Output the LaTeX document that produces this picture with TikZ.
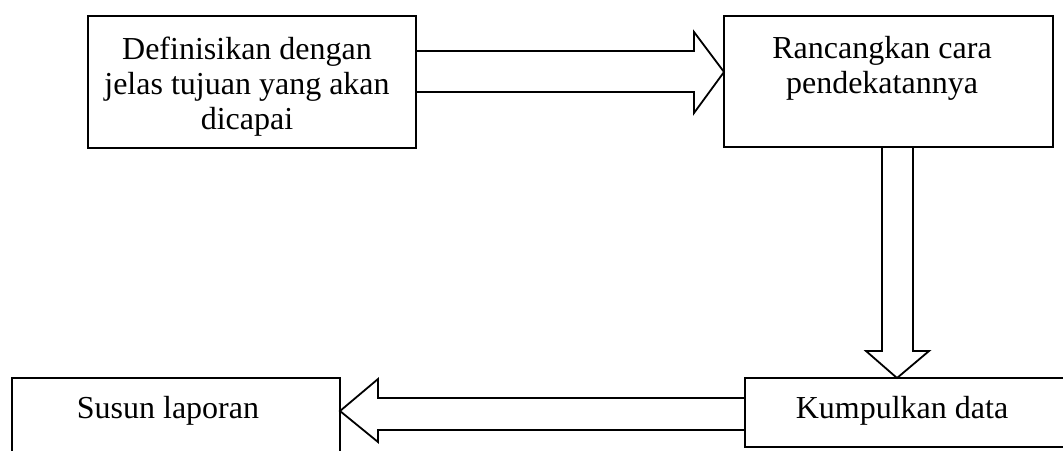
\documentclass[tikz,border=0pt]{standalone}
\usepackage{fontspec}
\setmainfont{Liberation Serif}
\begin{document}
\begin{tikzpicture}[x=0.5pt,y=-0.5pt,
  box/.style={draw,line width=0.9pt,inner sep=0pt,outer sep=0pt,rectangle},
  lbl/.style={anchor=base,align=center,inner sep=0pt,font=\fontsize{16}{17.5}\selectfont},
  barrow/.style={draw,line width=0.9pt,line join=miter}]
\useasboundingbox (0,0) rectangle (1063,450);
\clip (0,0) rectangle (1063,450);
% boxes
\node[box,minimum width=164pt,minimum height=66pt] (b1) at (252,82) {};
\node[box,minimum width=164.5pt,minimum height=65.5pt] (b2) at (888.5,81.5) {};
\node[box,minimum width=200pt,minimum height=34.5pt] (b3) at (945,412.5) {};
\node[box,minimum width=164pt,minimum height=51pt] (b4) at (176,429) {};
% texts
\node[lbl] (t1) at (247,129) {Definisikan dengan\\jelas tujuan yang akan\\dicapai};
\node[lbl] (t2) at (882,93) {Rancangkan cara\\pendekatannya};
\node[lbl] (t3) at (902,418) {Kumpulkan data};
\node[lbl] (t4) at (168,418) {Susun laporan};
% block arrows
\draw[barrow] (b1.east |- 0,51) -- (694,51) -- (694,32) -- (b2.west |- 0,72)
  -- (694,113) -- (694,92) -- (b1.east |- 0,92);
\draw[barrow] (b2.south -| 882,0) -- (882,351) -- (866,351) -- (b3.north -| 897,0)
  -- (929,351) -- (913,351) -- (b2.south -| 913,0);
\draw[barrow] (b3.west |- 0,398) -- (378,398) -- (378,379) -- (b4.east |- 0,411)
  -- (378,442) -- (378,430) -- (b3.west |- 0,430);
\end{tikzpicture}
\end{document}
